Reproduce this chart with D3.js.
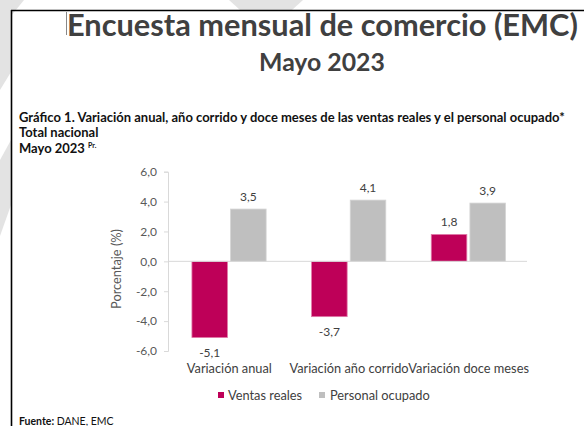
<!DOCTYPE html>
<html><head><meta charset="utf-8">
<script src="https://cdn.jsdelivr.net/npm/d3@7"></script>
<style>
html,body{margin:0;padding:0;background:#fff;}
svg{display:block;}
</style></head>
<body>
<svg id="c" width="584" height="426"></svg>
<script>
const categories = ["Variación anual", "Variación año corrido", "Variación doce meses"];
const seriesNames = ["Ventas reales", "Personal ocupado"];
const ventasReales = [-5.1, -3.7, 1.8];
const personalOcupado = [3.5, 4.1, 3.9];
const yTicks = [-6, -4, -2, 0, 2, 4, 6];
const colors = ["#BE0058", "#BFBFBF"];

const svg = d3.select("#c");
const FONT = "Lato, 'Open Sans', sans-serif";
const fmt = v => d3.format(".1f")(v).replace(".", ",").replace("\u2212", "-");

// watermark shapes
const wm = "#e3e3e3";
[
  [[0,0],[24,0],[11,16],[11,72],[0,90]],
  [[11,140],[11,205],[0,236],[0,160]],
  [[229,0],[303,0],[292,10],[240,10]]
].forEach(p => svg.append("polygon").attr("points", p.map(d=>d.join(",")).join(" ")).attr("fill", wm));

// page border
svg.append("line").attr("x1",11).attr("x2",584).attr("y1",10.5).attr("y2",10.5).attr("stroke","#000").attr("stroke-width",1.6);
svg.append("line").attr("x1",11.5).attr("x2",11.5).attr("y1",10).attr("y2",426).attr("stroke","#000").attr("stroke-width",1.6);
// text cursor
svg.append("line").attr("x1",66.5).attr("x2",66.5).attr("y1",12).attr("y2",35).attr("stroke","#888").attr("stroke-width",1);

function fitText(sel, target){
  const w = sel.node().getComputedTextLength();
  const fs = parseFloat(sel.attr("font-size"));
  sel.attr("font-size", fs * target / w);
}

const t1 = svg.append("text").attr("x",67).attr("y",36).attr("font-family",FONT).attr("font-weight","bold")
  .attr("font-size",28).attr("fill","#404040").text("Encuesta mensual de comercio (EMC)");
fitText(t1, 511);
const t2 = svg.append("text").attr("x",259).attr("y",71).attr("font-family",FONT).attr("font-weight","bold")
  .attr("font-size",22).attr("fill","#404040").text("Mayo 2023");
fitText(t2, 126);

const g1 = svg.append("text").attr("x",19).attr("y",122).attr("font-family",FONT).attr("font-weight","bold")
  .attr("font-size",11).attr("fill","#111").text("Gráfico 1. Variación anual, año corrido y doce meses de las ventas reales y el personal ocupado*");
fitText(g1, 546);
svg.append("text").attr("x",19).attr("y",137).attr("font-family",FONT).attr("font-weight","bold")
  .attr("font-size",g1.attr("font-size")).attr("fill","#111").text("Total nacional");
const m = svg.append("text").attr("x",19).attr("y",153).attr("font-family",FONT).attr("font-weight","bold")
  .attr("font-size",g1.attr("font-size")).attr("fill","#111");
m.append("tspan").text("Mayo 2023 ");
m.append("tspan").attr("font-size",7).attr("dy",-5).text("Pr.");

// chart
const x0 = d3.scaleBand().domain(categories).range([168, 527]).padding(0);
const bw = x0.bandwidth();
const x1 = d3.scaleBand().domain(seriesNames).range([bw*0.2, bw*0.82]).paddingInner(0.08);
const y = d3.scaleLinear().domain([-6, 6]).range([351, 171.7]);

const axis = svg.append("g").attr("transform","translate(168,0)")
  .call(d3.axisLeft(y).tickValues(yTicks).tickSize(4).tickPadding(7).tickFormat(fmt));
axis.select(".domain").attr("stroke","#d9d9d9");
axis.selectAll(".tick line").attr("stroke","#d9d9d9");
axis.selectAll(".tick text").attr("font-family",FONT).attr("font-size",12).attr("fill","#595959");

svg.append("text").attr("transform","translate(121,269) rotate(-90)").attr("text-anchor","middle")
  .attr("font-family",FONT).attr("font-size",12.8).attr("fill","#595959").text("Porcentaje (%)");

const data = categories.map((c,i)=>({cat:c, vals:[ventasReales[i], personalOcupado[i]]}));
const grp = svg.selectAll("g.cat").data(data).join("g").attr("class","cat")
  .attr("transform", d=>`translate(${x0(d.cat)},0)`);
grp.selectAll("rect").data(d=>d.vals.map((v,j)=>({v, s:seriesNames[j], j}))).join("rect")
  .attr("x", d=>x1(d.s)).attr("width", x1.bandwidth())
  .attr("y", d=>y(Math.max(0,d.v))).attr("height", d=>Math.abs(y(d.v)-y(0)))
  .attr("fill", d=>colors[d.j]).attr("stroke", d=> d.j===0 ? "#e07aa8" : "#d4d4d4").attr("stroke-width",0.8);
grp.selectAll("text.val").data(d=>d.vals.map((v,j)=>({v, s:seriesNames[j], j}))).join("text").attr("class","val")
  .attr("x", d=>x1(d.s)+x1.bandwidth()/2).attr("text-anchor","middle")
  .attr("y", d=> d.v>=0 ? y(d.v)-8 : y(d.v)+19)
  .attr("font-family",FONT).attr("font-size",12).attr("fill","#404040").text(d=>fmt(d.v));

// zero line
svg.append("line").attr("x1",168).attr("x2",527).attr("y1",y(0)).attr("y2",y(0)).attr("stroke","#d9d9d9").attr("stroke-width",1);

// category labels
svg.selectAll("text.cat").data(categories).join("text").attr("class","cat")
  .attr("x", d=>x0(d)+bw/2+1.5).attr("y",373).attr("text-anchor","middle")
  .attr("font-family",FONT).attr("font-size",12.8).attr("fill","#404040").text(d=>d);

// legend
const leg = [{x:218, tx:228}, {x:319, tx:330}];
seriesNames.forEach((s,i)=>{
  svg.append("rect").attr("x",leg[i].x).attr("y",392).attr("width",6).attr("height",6).attr("fill",colors[i]);
  svg.append("text").attr("x",leg[i].tx).attr("y",399.5).attr("font-family",FONT).attr("font-size",12.8).attr("fill","#404040").text(s);
});

// source
const f = svg.append("text").attr("x",19).attr("y",425).attr("font-family",FONT).attr("font-size",10.5).attr("fill","#111");
f.append("tspan").attr("font-weight","bold").text("Fuente: ");
f.append("tspan").text("DANE, EMC");
</script>
</body></html>
